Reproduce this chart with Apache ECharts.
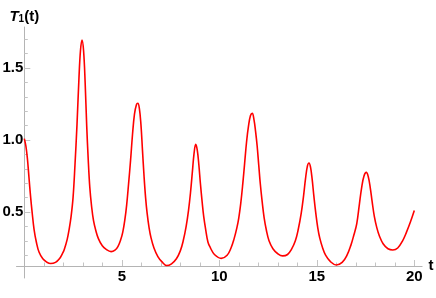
<!DOCTYPE html>
<html>
<head>
<meta charset="utf-8">
<script src="https://cdn.jsdelivr.net/npm/echarts@6/dist/echarts.min.js"></script>
<style>
html,body{margin:0;padding:0;background:#fff;}
#chart{width:436px;height:298px;}
</style>
</head>
<body>
<div id="chart"></div>
<script>
// time values t
var tValues = [0, 0.08, 0.16, 0.24, 0.32, 0.4, 0.5, 0.62, 0.76, 0.95, 1.15, 1.35, 1.6, 1.8, 1.95,
  2.05, 2.2, 2.3, 2.4, 2.5, 2.6, 2.7, 2.8, 2.88, 2.96, 3.04, 3.12, 3.2, 3.28, 3.36, 3.45, 3.55, 3.67, 3.8, 4.0, 4.2, 4.45, 4.65, 4.8, 4.95,
  5.05, 5.15, 5.25, 5.35, 5.45, 5.55, 5.65, 5.75, 5.82, 5.9, 5.98, 6.06, 6.14, 6.22, 6.3, 6.4, 6.5, 6.65, 6.85, 7.05, 7.3, 7.55, 7.8,
  8.0, 8.15, 8.3, 8.42, 8.52, 8.62, 8.7, 8.79, 8.87, 8.95, 9.03, 9.12, 9.2, 9.3, 9.42, 9.55, 9.75,
  10.1, 10.4, 10.6, 10.75, 10.9, 11.0, 11.1, 11.2, 11.3, 11.4, 11.5, 11.6, 11.69, 11.78, 11.86, 11.94, 12.02, 12.1, 12.2, 12.3, 12.42, 12.55, 12.75, 13.0, 13.25, 13.5,
  13.7, 13.9, 14.05, 14.2, 14.32, 14.42, 14.52, 14.6, 14.68, 14.76, 14.85, 14.95, 15.05, 15.15, 15.3, 15.45, 15.7, 16.0, 16.3,
  16.55, 16.75, 16.9, 17.05, 17.18, 17.3, 17.42, 17.54, 17.64, 17.74, 17.84, 17.95, 18.08, 18.22, 18.4, 18.65, 18.9, 19.15, 19.4, 19.6, 19.8, 20.0];
// T1(t) values
var t1Values = [1.01, 0.96, 0.87, 0.74, 0.61, 0.50, 0.38, 0.29, 0.22, 0.175, 0.152, 0.142, 0.15, 0.175, 0.21,
  0.24, 0.31, 0.38, 0.47, 0.60, 0.83, 1.10, 1.42, 1.62, 1.695, 1.62, 1.40, 1.10, 0.86, 0.67, 0.54, 0.44, 0.37, 0.315, 0.265, 0.24, 0.225, 0.235, 0.26, 0.31,
  0.36, 0.44, 0.55, 0.70, 0.86, 1.04, 1.18, 1.245, 1.255, 1.22, 1.11, 0.93, 0.75, 0.60, 0.49, 0.39, 0.32, 0.25, 0.19, 0.155, 0.128, 0.14, 0.175,
  0.23, 0.30, 0.40, 0.51, 0.63, 0.78, 0.90, 0.97, 0.93, 0.83, 0.70, 0.57, 0.47, 0.38, 0.29, 0.25, 0.205,
  0.178, 0.20, 0.25, 0.31, 0.39, 0.46, 0.56, 0.69, 0.84, 0.99, 1.10, 1.17, 1.185, 1.14, 1.06, 0.96, 0.83, 0.70, 0.57, 0.46, 0.37, 0.30, 0.245, 0.21, 0.195, 0.205,
  0.24, 0.30, 0.38, 0.49, 0.61, 0.73, 0.82, 0.84, 0.81, 0.73, 0.61, 0.49, 0.39, 0.32, 0.25, 0.20, 0.155, 0.132, 0.15,
  0.20, 0.27, 0.34, 0.42, 0.55, 0.67, 0.75, 0.775, 0.745, 0.67, 0.57, 0.47, 0.39, 0.33, 0.28, 0.245, 0.236, 0.25, 0.30, 0.36, 0.43, 0.51];
var xMajorTicks = [5, 10, 15, 20];
var xMinorTicks = [1, 2, 3, 4, 6, 7, 8, 9, 11, 12, 13, 14, 16, 17, 18, 19];
var yMajorTicks = [0.5, 1.0, 1.5];
var yMinorTicks = [0.2, 0.3, 0.4, 0.6, 0.7, 0.8, 0.9, 1.1, 1.2, 1.3, 1.4, 1.6, 1.7];

var seriesData = tValues.map(function (t, i) { return [t, t1Values[i]]; });

var axisGray = '#b4b4b4';
var tickGray = '#c4c4c4';
var fontFam = '"Liberation Sans", Arial, sans-serif';

var chart = echarts.init(document.getElementById('chart'), null, {renderer: 'canvas'});
chart.setOption({
  animation: false,
  backgroundColor: '#fff',
  grid: [
    // main plot area
    {left: 24.3, width: 397.8, top: 27, height: 239, containLabel: false, outerBoundsMode: 'none'},
    // y-axis line continuing below the t axis
    {left: 24.3, width: 397.8, top: 266, height: 12, containLabel: false, outerBoundsMode: 'none'},
    // t-axis line continuing left of the y axis
    {left: 16.5, width: 7.8, top: 27, height: 239, containLabel: false, outerBoundsMode: 'none'}
  ],
  xAxis: [
    {
      type: 'value', gridIndex: 0, min: 0, max: 20.4, position: 'bottom',
      splitLine: {show: false},
      axisLine: {show: true, onZero: false, lineStyle: {color: axisGray, width: 1}},
      axisTick: {show: true, inside: true, length: 6, customValues: xMajorTicks, lineStyle: {color: tickGray}},
      axisLabel: {show: true, customValues: xMajorTicks, margin: 3, formatter: function (v) { return String(v); }, color: '#000', fontWeight: 'bold', fontSize: 15, fontFamily: fontFam},
      name: 't', nameLocation: 'end', nameGap: 6,
      nameTextStyle: {color: '#000', fontWeight: 'bold', fontSize: 15, fontFamily: fontFam, padding: [0, 0, 7, 0]}
    },
    {
      type: 'value', gridIndex: 0, min: 0, max: 20.4, position: 'bottom',
      splitLine: {show: false},
      axisLine: {show: false, onZero: false},
      axisTick: {show: true, inside: true, length: 3.5, customValues: xMinorTicks, lineStyle: {color: tickGray}},
      axisLabel: {show: false}
    },
    {
      type: 'value', gridIndex: 1, min: 0, max: 20.4, show: false
    },
    {
      type: 'value', gridIndex: 2, min: -0.4, max: 0, position: 'bottom',
      splitLine: {show: false},
      axisLine: {show: true, onZero: false, lineStyle: {color: axisGray, width: 1}},
      axisTick: {show: false},
      axisLabel: {show: false}
    }
  ],
  yAxis: [
    {
      type: 'value', gridIndex: 0, min: 0.125, max: 1.785, position: 'left',
      splitLine: {show: false},
      axisLine: {show: true, onZero: false, lineStyle: {color: axisGray, width: 1}},
      axisTick: {show: true, inside: true, length: 6, customValues: yMajorTicks, lineStyle: {color: tickGray}},
      axisLabel: {show: true, customValues: yMajorTicks, margin: 1, formatter: function (v) { return v.toFixed(1); }, color: '#000', fontWeight: 'bold', fontSize: 15, fontFamily: fontFam},
      name: '{i|T}{s|1}{n|(t)}', nameLocation: 'end', nameGap: 3,
      nameTextStyle: {
        align: 'center',
        rich: {
          i: {fontStyle: 'italic', fontWeight: 'bold', fontSize: 15, color: '#000', fontFamily: fontFam},
          s: {fontWeight: 'bold', fontSize: 10, color: '#000', fontFamily: fontFam, padding: [5, 0, 0, 0]},
          n: {fontWeight: 'bold', fontSize: 15, color: '#000', fontFamily: fontFam}
        }
      }
    },
    {
      type: 'value', gridIndex: 0, min: 0.125, max: 1.785, position: 'left',
      splitLine: {show: false},
      axisLine: {show: false, onZero: false},
      axisTick: {show: true, inside: true, length: 3.5, customValues: yMinorTicks, lineStyle: {color: tickGray}},
      axisLabel: {show: false}
    },
    {
      type: 'value', gridIndex: 1, min: 0, max: 1, position: 'left',
      splitLine: {show: false},
      axisLine: {show: true, onZero: false, lineStyle: {color: axisGray, width: 1}},
      axisTick: {show: false},
      axisLabel: {show: false}
    },
    {
      type: 'value', gridIndex: 2, min: 0, max: 1, show: false
    }
  ],
  series: [
    {
      type: 'line', xAxisIndex: 0, yAxisIndex: 0,
      data: seriesData,
      smooth: 0.4,
      showSymbol: false,
      clip: false,
      lineStyle: {color: '#ff0000', width: 1.6},
      itemStyle: {color: '#ff0000'}
    }
  ]
});
</script>
</body>
</html>
